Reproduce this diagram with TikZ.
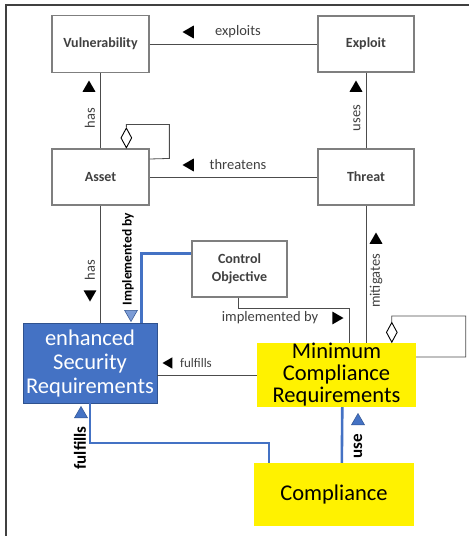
\documentclass[tikz,border=0pt]{standalone}
\usepackage{fontspec}
\setmainfont{Carlito}
\usetikzlibrary{positioning, shapes.geometric, calc}

\definecolor{boxgray}{HTML}{7F7F7F}
\definecolor{textgray}{HTML}{404040}
\definecolor{msblue}{HTML}{4472C4}
\definecolor{msdarkblue}{HTML}{2F528F}

\begin{document}
\begin{tikzpicture}[%
		x=1pt, y=-1pt,
		entity/.style={
			rectangle,
			draw=boxgray,
			line width=1.3pt,
			fill=white,
			text=textgray,
			font=\fontsize{14}{17.5}\selectfont\bfseries,
			align=center
		},
		secbox/.style={
			rectangle,
			fill=msblue,
			draw=msdarkblue,
			line width=0.8pt,
			text=white,
			font=\fontsize{22.5}{24}\selectfont,
			align=center,
			inner sep=0pt
		},
		compbox/.style={
			rectangle,
			fill=yellow,
			text=black,
			font=\fontsize{22.5}{22}\selectfont,
			align=center,
			inner sep=0pt
		},
		rel/.style={
			draw=black!70,
			line width=0.8pt
		},
		blueline/.style={
			draw=msblue,
			line width=2.6pt
		},
		rlabel/.style={
			text=textgray,
			font=\fontsize{14.5}{17}\selectfont,
			inner sep=0pt
		},
		blabel/.style={
			text=black,
			font=\fontsize{17}{19}\selectfont\bfseries,
			inner sep=0pt
		},
		tri/.style={
			regular polygon,
			regular polygon sides=3,
			minimum size=15pt,
			inner sep=0pt,
			fill=black
		},
		bluetri/.style={
			tri,
			fill=msblue,
			draw=msdarkblue,
			line width=0.5pt
		},
		agg/.style={
			diamond,
			draw=black,
			fill=white,
			line width=0.9pt,
			minimum width=11pt,
			minimum height=20pt,
			inner sep=0pt
		}]

		\useasboundingbox (0,0) rectangle (469,536);

		% FRAME

		\draw[black!75, line width=1.6pt] (469,5) -- (6,5) -- (6,536);

		% ENTITIES

		\node (vuln) [entity, minimum width=97pt, minimum height=57pt] at (100.5,44) {Vulnerability};
		\node (exploit) [entity, minimum width=96pt, minimum height=56pt] at (366,44) {Exploit};
		\node (asset) [entity, minimum width=97pt, minimum height=56pt] at (100.5,177) {Asset};
		\node (threat) [entity, minimum width=96pt, minimum height=56pt] at (366,177) {Threat};
		\node (ctrl) [entity, minimum width=95pt, minimum height=56pt] at (239.5,269) {Control\\Objective};
		\node (esr) [secbox, minimum width=134pt, minimum height=80pt] at (90,363) {enhanced\\Security\\Requirements};
		\node (mcr) [compbox, minimum width=159pt, minimum height=64pt] at (336.5,375) {Minimum\\Compliance\\Requirements};
		\node (comp) [compbox, minimum width=160pt, minimum height=63pt] at (334,494.5) {Compliance};

		% AGGREGATION DIAMONDS

		\node (asset-agg) [agg, anchor=south] at ($(asset.north west)+(75,0)$) {};
		\node (mcr-agg) [agg, anchor=south] at ($(mcr.north west)+(135,0)$) {};

		% UPPER LINES

		\draw[rel] (vuln.east) -- (exploit.west);
		\node (t-exploits) [tri, shape border rotate=90] at (190,32) {};
		\node (l-exploits) [rlabel] at (238,32) {exploits};

		\draw[rel] (vuln.south) -- (asset.north);
		\node (t-has1) [tri] at (89,88) {};
		\node (l-has1) [rlabel, rotate=90] at (90,118) {has};

		\draw[rel] (exploit.south) -- (threat.north);
		\node (t-uses) [tri] at (356,88) {};
		\node (l-uses) [rlabel, rotate=90] at (357,118) {uses};

		\draw[rel] (threat.west) -- (asset.east);
		\node (t-threatens) [tri, shape border rotate=90] at (190,165) {};
		\node (l-threatens) [rlabel] at (238,165) {threatens};

		\draw[rel] (asset-agg.north) -- ++(0,-3) -| ++(43,34) -- (asset.east |- 0,159);

		% LOWER LINES

		\draw[rel] (asset.south) -- (asset.south |- esr.north);
		\node (t-has2) [tri, shape border rotate=180] at (90,294) {};
		\node (l-has2) [rlabel, rotate=90] at (90,270) {has};

		\draw[blueline] ($(esr.north west)+(119,0)$) |- ($(ctrl.north west)+(0,13)$);
		\node (t-impl1) [bluetri, shape border rotate=180, fill=msblue!70] at (131,314) {};
		\node (l-impl1) [blabel, rotate=90, font=\fontsize{13.5}{15}\selectfont\bfseries] at (128,259) {Implemented by};

		\draw[rel] (ctrl.south) ++(-1.5,0) -- ++(0,11) -| ($(mcr.north west)+(93,0)$);
		\node (l-impl2) [rlabel] at (270,318) {implemented by};
		\node (t-impl2) [tri, shape border rotate=-90] at (336,318) {};

		\draw[rel] (threat.south) -- (threat.south |- mcr.north);
		\node (t-mitigates) [tri] at (376,240) {};
		\node (l-mitigates) [rlabel, rotate=90] at (376,281) {mitigates};

		\draw[rel] (mcr-agg.north) -- ++(0,-6) -| ++(74,41) -- (mcr.east |- 0,357);

		\draw[rel] (mcr.west) -- (esr.east |- mcr.west);
		\node (t-fulfills1) [tri, shape border rotate=90, minimum size=13pt] at (169,363) {};
		\node (l-fulfills1) [rlabel, font=\fontsize{13}{15}\selectfont] at (196,363) {fulfills};

		% COMPLIANCE LINES

		\draw[blueline] (esr.south) |- ($(comp.north west)+(15,-20)$) -- ($(comp.north west)+(15,0)$);
		\node (t-fulfills2) [bluetri] at (81,414) {};
		\node (l-fulfills2) [blabel, rotate=90] at (80,448) {fulfills};

		\draw[blueline] ($(comp.north west)+(88,0)$) -- ($(mcr.south west)+(85.5,0)$);
		\node (t-use) [bluetri] at (358,421) {};
		\node (l-use) [blabel, rotate=90] at (358,446) {use};
\end{tikzpicture}
\end{document}
